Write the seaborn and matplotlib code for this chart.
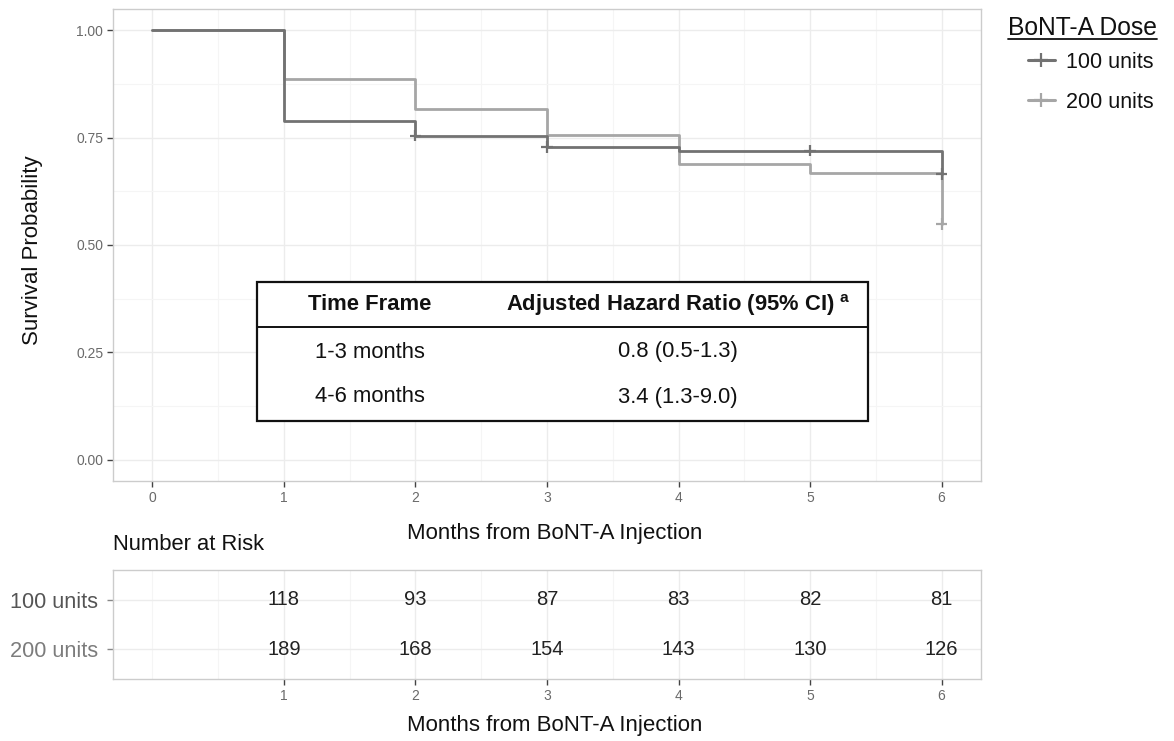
import numpy as np
import pandas as pd
import matplotlib
matplotlib.use("Agg")
import matplotlib.pyplot as plt
import seaborn as sns
from matplotlib.lines import Line2D
from matplotlib.patches import Rectangle

# ---------------- data ----------------
doses = ["100 units", "200 units"]
months = [0, 1, 2, 3, 4, 5, 6]
surv_100 = [1.000, 0.788, 0.755, 0.729, 0.720, 0.720, 0.665]
surv_200 = [1.000, 0.888, 0.816, 0.756, 0.689, 0.668, 0.549]
censor_months_100 = [2, 3, 5, 6]
censor_surv_100 = [0.755, 0.729, 0.720, 0.665]
censor_months_200 = [6]
censor_surv_200 = [0.549]
risk_months = [1, 2, 3, 4, 5, 6]
risk_100 = [118, 93, 87, 83, 82, 81]
risk_200 = [189, 168, 154, 143, 130, 126]
x_ticks = [0, 1, 2, 3, 4, 5, 6]
risk_x_ticks = [1, 2, 3, 4, 5, 6]
y_ticks = [0.00, 0.25, 0.50, 0.75, 1.00]
y_tick_labels = ["0.00", "0.25", "0.50", "0.75", "1.00"]
hr_header = ["Time Frame", "Adjusted Hazard Ratio (95% CI)"]
hr_time_frames = ["1-3 months", "4-6 months"]
hr_values = ["0.8 (0.5-1.3)", "3.4 (1.3-9.0)"]
x_label = "Months from BoNT-A Injection"
y_label = "Survival Probability"
legend_title = "BoNT-A Dose"

# ---------------- style ----------------
sns.set_theme(style="white")
plt.rcParams["font.family"] = ["Liberation Sans", "DejaVu Sans"]
plt.rcParams["mathtext.fontset"] = "custom"
plt.rcParams["mathtext.rm"] = "Liberation Sans"
plt.rcParams["mathtext.bf"] = "Liberation Sans:bold"

palette = {"100 units": "#727272", "200 units": "#a6a6a6"}
row_text_colors = {"100 units": "#555555", "200 units": "#7c7c7c"}
tick_color = "#6a6a6a"
grid_major = "#ececec"
grid_minor = "#f5f5f5"
spine_color = "#cccccc"

W, H = 1174, 741
fig = plt.figure(figsize=(W / 100, H / 100), dpi=100)
fig.patch.set_facecolor("white")


def fx(px):
    return px / W


def fy(py):
    return 1 - py / H


# ---------------- main survival axes ----------------
ax = fig.add_axes([fx(113), fy(481), fx(868), 472 / H])

curve_df = pd.DataFrame({
    "month": months * 2,
    "surv": surv_100 + surv_200,
    "dose": [doses[0]] * len(months) + [doses[1]] * len(months),
})
cens_df = pd.DataFrame({
    "month": censor_months_100 + censor_months_200,
    "surv": censor_surv_100 + censor_surv_200,
    "dose": [doses[0]] * len(censor_months_100) + [doses[1]] * len(censor_months_200),
})

# draw 200 units first so the 100 units curve sits on top (as in the reference)
sns.lineplot(data=curve_df, x="month", y="surv", hue="dose", hue_order=doses[::-1],
             palette=palette, drawstyle="steps-post", linewidth=2.0,
             errorbar=None, legend=False, ax=ax, zorder=3)
sns.scatterplot(data=cens_df, x="month", y="surv", hue="dose", hue_order=doses[::-1],
                palette=palette, marker="+", s=70, linewidth=1.6,
                legend=False, ax=ax, zorder=4)

ax.set_xlim(-0.3, 6.3)
ax.set_ylim(-0.05, 1.05)
ax.set_xticks(x_ticks)
ax.set_xticklabels([str(t) for t in x_ticks])
ax.set_yticks(y_ticks)
ax.set_yticklabels(y_tick_labels)
ax.set_xticks(np.arange(0.5, 6, 1.0), minor=True)
ax.set_yticks(np.arange(0.125, 1.0, 0.25), minor=True)
ax.grid(which="major", color=grid_major, linewidth=1.0, zorder=0)
ax.grid(which="minor", color=grid_minor, linewidth=0.8, zorder=0)
ax.set_axisbelow(True)
ax.tick_params(which="major", axis="both", direction="out", length=4, width=1,
               color="#444444", labelsize=10, labelcolor=tick_color, pad=3,
               bottom=True, left=True)
ax.tick_params(which="minor", length=0)
ax.set_xlabel("")
ax.set_ylabel("")
for sp in ax.spines.values():
    sp.set_color(spine_color)
    sp.set_linewidth(1.0)

# Hazard ratio inset table
bx0, bx1 = (257 - 113) / 868, (868 - 113) / 868
by_top, by_line, by_bot = (481 - 282) / 472, (481 - 327) / 472, (481 - 421) / 472
ax.add_patch(Rectangle((bx0, by_bot), bx1 - bx0, by_top - by_bot, transform=ax.transAxes,
                       facecolor="white", edgecolor="#111111", linewidth=1.6, zorder=5))
ax.add_line(Line2D([bx0, bx1], [by_line, by_line], transform=ax.transAxes,
                   color="#111111", linewidth=1.4, zorder=6))
col1 = (370 - 113) / 868
col2 = (678 - 113) / 868
hdr_y = (481 - 305) / 472
row_ys = [(481 - 352) / 472, (481 - 397) / 472]
ax.text(col1, hdr_y, hr_header[0], transform=ax.transAxes, ha="center", va="center",
        fontsize=15.8, fontweight="bold", color="#111111", zorder=7)
ax.text(col2, hdr_y, hr_header[1] + r" $^{\mathbf{a}}$", transform=ax.transAxes,
        ha="center", va="center", fontsize=15.8, fontweight="bold", color="#111111", zorder=7)
for ry, tf, hv in zip(row_ys, hr_time_frames, hr_values):
    ax.text(col1, ry, tf, transform=ax.transAxes, ha="center", va="center",
            fontsize=15.8, color="#111111", zorder=7)
    ax.text(col2, ry, hv, transform=ax.transAxes, ha="center", va="center",
            fontsize=15.8, color="#111111", zorder=7)

# axis labels
fig.text(fx(33), fy(250), y_label, rotation=90, ha="center", va="center",
         fontsize=16, color="#111111")
fig.text(fx(555), fy(533), x_label, ha="center", va="center", fontsize=16, color="#111111")

# legend
handles = [Line2D([], [], color=palette[d], linewidth=2.2, marker="+", markersize=10,
                  markeredgewidth=1.6) for d in doses]
fig.legend(handles, doses, loc="center left", bbox_to_anchor=(fx(1028), fy(82.5)),
           frameon=False, borderpad=0, borderaxespad=0, handlelength=1.25,
           handletextpad=0.5, labelspacing=0.88, fontsize=15.5, labelcolor="#111111")
title_txt = fig.text(fx(1008), fy(28), legend_title, ha="left", va="center",
                     fontsize=17.7, color="#111111")

# ---------------- risk table axes ----------------
ax2 = fig.add_axes([fx(113), fy(679), fx(868), 109 / H])
ax2.set_xlim(-0.3, 6.3)
ax2.set_ylim(-0.6, 1.6)
row_pos = {"100 units": 1, "200 units": 0}
risk_df = pd.DataFrame({
    "month": risk_months * 2,
    "n": risk_100 + risk_200,
    "row": [row_pos[doses[0]]] * len(risk_months) + [row_pos[doses[1]]] * len(risk_months),
})
for m, n, r in risk_df.itertuples(index=False):
    ax2.text(m, r, str(n), ha="center", va="center", fontsize=14.5, color="#222222")
ax2.set_xticks(risk_x_ticks)
ax2.set_xticklabels([str(t) for t in risk_x_ticks])
ax2.set_xticks(np.arange(0, 6.01, 0.5), minor=True)
ax2.set_yticks([row_pos[d] for d in doses])
ax2.set_yticklabels(doses)
for lbl, d in zip(ax2.get_yticklabels(), doses):
    lbl.set_color(row_text_colors[d])
ax2.grid(which="major", color=grid_major, linewidth=1.0, zorder=0)
ax2.grid(which="minor", axis="x", color=grid_minor, linewidth=0.8, zorder=0)
ax2.set_axisbelow(True)
ax2.tick_params(axis="x", which="major", direction="out", length=4, width=1,
                color="#444444", labelsize=10, labelcolor=tick_color, pad=3, bottom=True)
ax2.tick_params(axis="y", which="major", direction="out", length=4, width=1,
                color="#888888", labelsize=15.7, pad=7, left=True)
ax2.tick_params(which="minor", length=0)
for sp in ax2.spines.values():
    sp.set_color(spine_color)
    sp.set_linewidth(1.0)

fig.text(fx(113), fy(545), "Number at Risk", ha="left", va="center",
         fontsize=15.8, color="#111111")
fig.text(fx(555), fy(726), x_label, ha="center", va="center", fontsize=16, color="#111111")

# underline legend title
fig.canvas.draw()
bb = title_txt.get_window_extent(renderer=fig.canvas.get_renderer())
fig.add_artist(Line2D([bb.x0 / W, bb.x1 / W], [fy(39), fy(39)], transform=fig.transFigure,
                      color="#111111", linewidth=1.3))

fig.savefig("out.png", dpi=100, facecolor="white")
